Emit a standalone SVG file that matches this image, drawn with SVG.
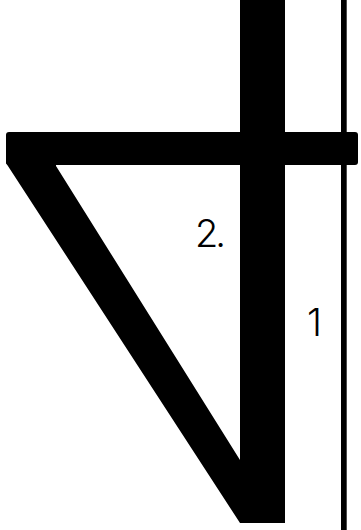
<svg xmlns="http://www.w3.org/2000/svg" width="361" height="530" viewBox="0 0 361 530">
<style>
.bar{fill:#000}
.lbl{font-family:Inter,"Liberation Sans",sans-serif;font-weight:300;font-size:38px;fill:#000}
</style>
<rect width="361" height="530" fill="#fff"/>
<g id="frame">
<polygon class="bar" points="6,150 56,150 56,166 240,460 240,523 6,163"/>
<rect id="vertical" class="bar" x="240" y="0" width="45" height="523"/>
<rect id="horizontal" class="bar" x="6" y="132" width="352" height="33" rx="3"/>
</g>
<g id="dimension">
<rect class="bar" x="341" y="0" width="5.7" height="530"/>
</g>
<g id="labels">
<text class="lbl" x="195" y="247" letter-spacing="-3">2.</text>
<text class="lbl" x="307" y="336">1</text>
</g>
</svg>
